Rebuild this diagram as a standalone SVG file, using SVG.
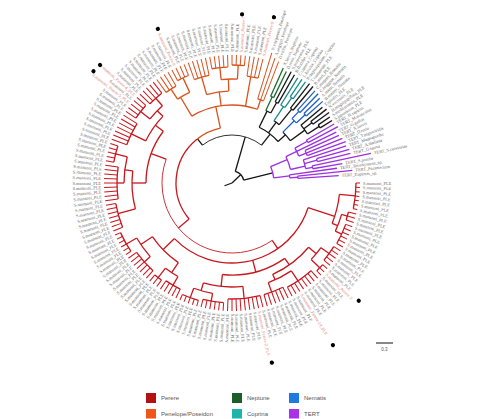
<svg xmlns="http://www.w3.org/2000/svg" width="481" height="419" viewBox="0 0 481 419">
<style>
.br path,.br circle{fill:none;stroke-width:1.3}
.k{stroke:#151515}.r{stroke:#c8161d}.o{stroke:#d9531e}.g{stroke:#1d6b2f}.c{stroke:#1a8c8c}.b{stroke:#1f5fc8}.p{stroke:#9b30e0}
.br .th{stroke-width:0.8}
.br .lf path{stroke-width:1}
.lbl text{font-family:"Liberation Serif","Times New Roman",serif;font-size:4.4px;fill:#666;dominant-baseline:central}
.lbl .L text{text-anchor:end}
.lbl text.pk{fill:#e07a72}
.lg text{font-family:"Liberation Sans",Arial,sans-serif;font-size:6px;fill:#555;dominant-baseline:central}
</style>
<rect width="481" height="419" fill="#fff"/>
<g id="branches" class="br" transform="translate(232,183)">
 <g id="root">
  <path class="k" d="M0 0H8" transform="rotate(160)"/>
  <path class="k" d="M0 0H12" transform="rotate(-44)"/>
  <circle class="k" r="12" pathLength="360" stroke-dasharray="60 999" transform="rotate(-74)"/>
  <path class="k" d="M12 0H48" transform="rotate(-74)"/>
  <path class="k" d="M12 0H42" transform="rotate(-14)"/>
  <circle class="k th" r="48" pathLength="360" stroke-dasharray="76 999" transform="rotate(-128)"/>
  <path class="k" d="M48 0H56" transform="rotate(-128)"/>
 </g>
 <g id="perere-branches" class="r">
  <circle class="r" r="56" pathLength="360" stroke-dasharray="92 999" transform="rotate(140)"/>
  <path d="M56 0H70" transform="rotate(140)"/>
  <circle class="r th" r="70" pathLength="360" stroke-dasharray="145 999" transform="rotate(55)"/>
  <path d="M70 0H86" transform="rotate(200)"/>
  <circle r="86" pathLength="360" stroke-dasharray="37 999" transform="rotate(180)"/>
  <path d="M86 0H100" transform="rotate(180)"/>
  <circle r="100" pathLength="360" stroke-dasharray="22 999" transform="rotate(165)"/>
  <path d="M100 0H118" transform="rotate(165)"/>
  <circle r="118" pathLength="360" stroke-dasharray="12 999" transform="rotate(158)"/>
  <path d="M100 0H108" transform="rotate(187)"/>
  <circle r="108" pathLength="360" stroke-dasharray="14 999" transform="rotate(180)"/>
  <path d="M108 0H115" transform="rotate(180)"/>
  <circle r="115" pathLength="360" stroke-dasharray="16 999" transform="rotate(172)"/>
  <path d="M108 0H120" transform="rotate(194)"/>
  <circle r="120" pathLength="360" stroke-dasharray="8 999" transform="rotate(190)"/>
  <path d="M86 0H96" transform="rotate(217)"/>
  <circle r="96" pathLength="360" stroke-dasharray="18 999" transform="rotate(206)"/>
  <path d="M96 0H112" transform="rotate(206)"/>
  <circle r="112" pathLength="360" stroke-dasharray="12 999" transform="rotate(200)"/>
  <path d="M96 0H104" transform="rotate(224)"/>
  <circle r="104" pathLength="360" stroke-dasharray="10 999" transform="rotate(218)"/>
  <path d="M104 0H116" transform="rotate(218)"/>
  <circle r="116" pathLength="360" stroke-dasharray="8 999" transform="rotate(214)"/>
  <path d="M104 0H114" transform="rotate(228)"/>
  <circle r="114" pathLength="360" stroke-dasharray="8 999" transform="rotate(224)"/>
  <path d="M70 0H80" transform="rotate(55)"/>
  <circle r="80" pathLength="360" stroke-dasharray="118 999" transform="rotate(18)"/>
  <path d="M80 0H108" transform="rotate(18)"/>
  <circle r="108" pathLength="360" stroke-dasharray="16 999" transform="rotate(6)"/>
  <path d="M108 0H124" transform="rotate(6)"/>
  <circle r="124" pathLength="360" stroke-dasharray="12 999" transform="rotate(0)"/>
  <path d="M108 0H114" transform="rotate(22)"/>
  <circle r="114" pathLength="360" stroke-dasharray="9 999" transform="rotate(16)"/>
  <path d="M114 0H120" transform="rotate(16)"/>
  <circle r="120" pathLength="360" stroke-dasharray="4 999" transform="rotate(14)"/>
  <path d="M114 0H121" transform="rotate(25)"/>
  <circle r="121" pathLength="360" stroke-dasharray="10 999" transform="rotate(20)"/>
  <path d="M80 0H92" transform="rotate(75)"/>
  <circle r="92" pathLength="360" stroke-dasharray="41 999" transform="rotate(55)"/>
  <path d="M92 0H100" transform="rotate(55)"/>
  <circle r="100" pathLength="360" stroke-dasharray="26 999" transform="rotate(40)"/>
  <path d="M100 0H110" transform="rotate(40)"/>
  <circle r="110" pathLength="360" stroke-dasharray="8 999" transform="rotate(36)"/>
  <path d="M110 0H120" transform="rotate(36)"/>
  <circle r="120" pathLength="360" stroke-dasharray="8 999" transform="rotate(32)"/>
  <path d="M110 0H122" transform="rotate(44)"/>
  <circle r="122" pathLength="360" stroke-dasharray="4 999" transform="rotate(42)"/>
  <path d="M100 0H106" transform="rotate(66)"/>
  <circle r="106" pathLength="360" stroke-dasharray="14 999" transform="rotate(56)"/>
  <path d="M106 0H118" transform="rotate(56)"/>
  <circle r="118" pathLength="360" stroke-dasharray="14 999" transform="rotate(48)"/>
  <path d="M106 0H116" transform="rotate(70)"/>
  <circle r="116" pathLength="360" stroke-dasharray="10 999" transform="rotate(64)"/>
  <path d="M92 0H104" transform="rotate(96)"/>
  <circle r="104" pathLength="360" stroke-dasharray="22 999" transform="rotate(84)"/>
  <path d="M104 0H116" transform="rotate(84)"/>
  <circle r="116" pathLength="360" stroke-dasharray="16 999" transform="rotate(76)"/>
  <path d="M104 0H112" transform="rotate(106)"/>
  <circle r="112" pathLength="360" stroke-dasharray="10 999" transform="rotate(100)"/>
  <path d="M112 0H120" transform="rotate(100)"/>
  <circle r="120" pathLength="360" stroke-dasharray="10 999" transform="rotate(94)"/>
  <path d="M112 0H122" transform="rotate(110)"/>
  <circle r="122" pathLength="360" stroke-dasharray="8 999" transform="rotate(106)"/>
  <path d="M80 0H96" transform="rotate(136)"/>
  <circle r="96" pathLength="360" stroke-dasharray="22 999" transform="rotate(124)"/>
  <path d="M96 0H108" transform="rotate(124)"/>
  <circle r="108" pathLength="360" stroke-dasharray="8 999" transform="rotate(120)"/>
  <path d="M108 0H118" transform="rotate(120)"/>
  <circle r="118" pathLength="360" stroke-dasharray="8 999" transform="rotate(116)"/>
  <path d="M108 0H120" transform="rotate(128)"/>
  <circle r="120" pathLength="360" stroke-dasharray="4 999" transform="rotate(126)"/>
  <path d="M96 0H110" transform="rotate(146)"/>
  <circle r="110" pathLength="360" stroke-dasharray="12 999" transform="rotate(138)"/>
  <path d="M110 0H118" transform="rotate(138)"/>
  <circle r="118" pathLength="360" stroke-dasharray="12 999" transform="rotate(132)"/>
  <path d="M110 0H122" transform="rotate(150)"/>
  <circle r="122" pathLength="360" stroke-dasharray="10 999" transform="rotate(146)"/>
  <g class="lf">
   <path d="M124 0H128"/><path d="M124 0H128" transform="rotate(2)"/><path d="M124 0H128" transform="rotate(4)"/><path d="M124 0H128" transform="rotate(6)"/><path d="M124 0H128" transform="rotate(8)"/><path d="M124 0H128" transform="rotate(10)"/><path d="M124 0H128" transform="rotate(12)"/>
   <path d="M120 0H128" transform="rotate(14)"/><path d="M120 0H128" transform="rotate(16)"/><path d="M120 0H128" transform="rotate(18)"/>
   <path d="M121 0H128" transform="rotate(20)"/><path d="M121 0H128" transform="rotate(22)"/><path d="M121 0H128" transform="rotate(24)"/><path d="M121 0H128" transform="rotate(26)"/><path d="M121 0H128" transform="rotate(28)"/><path d="M121 0H128" transform="rotate(30)"/>
   <path d="M120 0H128" transform="rotate(32)"/><path d="M120 0H128" transform="rotate(34)"/><path d="M120 0H128" transform="rotate(36)"/><path d="M120 0H128" transform="rotate(38)"/><path d="M120 0H128" transform="rotate(40)"/>
   <path d="M122 0H128" transform="rotate(42)"/><path d="M122 0H128" transform="rotate(44)"/><path d="M122 0H128" transform="rotate(46)"/>
   <path d="M118 0H128" transform="rotate(48)"/><path d="M118 0H128" transform="rotate(50)"/><path d="M118 0H128" transform="rotate(52)"/><path d="M118 0H128" transform="rotate(54)"/><path d="M118 0H128" transform="rotate(56)"/><path d="M118 0H128" transform="rotate(58)"/><path d="M118 0H128" transform="rotate(60)"/><path d="M118 0H128" transform="rotate(62)"/>
   <path d="M116 0H128" transform="rotate(64)"/><path d="M116 0H128" transform="rotate(66)"/><path d="M116 0H128" transform="rotate(68)"/><path d="M116 0H128" transform="rotate(70)"/><path d="M116 0H128" transform="rotate(72)"/><path d="M116 0H128" transform="rotate(74)"/>
   <path d="M116 0H128" transform="rotate(76)"/><path d="M116 0H128" transform="rotate(78)"/><path d="M116 0H128" transform="rotate(80)"/><path d="M116 0H128" transform="rotate(82)"/><path d="M116 0H128" transform="rotate(84)"/><path d="M116 0H128" transform="rotate(86)"/><path d="M116 0H128" transform="rotate(88)"/><path d="M116 0H128" transform="rotate(90)"/><path d="M116 0H128" transform="rotate(92)"/>
   <path d="M120 0H128" transform="rotate(94)"/><path d="M120 0H128" transform="rotate(96)"/><path d="M120 0H128" transform="rotate(98)"/><path d="M120 0H128" transform="rotate(100)"/><path d="M120 0H128" transform="rotate(102)"/><path d="M120 0H128" transform="rotate(104)"/>
   <path d="M122 0H128" transform="rotate(106)"/><path d="M122 0H128" transform="rotate(108)"/><path d="M122 0H128" transform="rotate(110)"/><path d="M122 0H128" transform="rotate(112)"/><path d="M122 0H128" transform="rotate(114)"/>
   <path d="M118 0H128" transform="rotate(116)"/><path d="M118 0H128" transform="rotate(118)"/><path d="M118 0H128" transform="rotate(120)"/><path d="M118 0H128" transform="rotate(122)"/><path d="M118 0H128" transform="rotate(124)"/>
   <path d="M120 0H128" transform="rotate(126)"/><path d="M120 0H128" transform="rotate(128)"/><path d="M120 0H128" transform="rotate(130)"/>
   <path d="M118 0H128" transform="rotate(132)"/><path d="M118 0H128" transform="rotate(134)"/><path d="M118 0H128" transform="rotate(136)"/><path d="M118 0H128" transform="rotate(138)"/><path d="M118 0H128" transform="rotate(140)"/><path d="M118 0H128" transform="rotate(142)"/><path d="M118 0H128" transform="rotate(144)"/>
   <path d="M122 0H128" transform="rotate(146)"/><path d="M122 0H128" transform="rotate(148)"/><path d="M122 0H128" transform="rotate(150)"/><path d="M122 0H128" transform="rotate(152)"/><path d="M122 0H128" transform="rotate(154)"/><path d="M122 0H128" transform="rotate(156)"/>
   <path d="M118 0H128" transform="rotate(158)"/><path d="M118 0H128" transform="rotate(160)"/><path d="M118 0H128" transform="rotate(162)"/><path d="M118 0H128" transform="rotate(164)"/><path d="M118 0H128" transform="rotate(166)"/><path d="M118 0H128" transform="rotate(168)"/><path d="M118 0H128" transform="rotate(170)"/>
   <path d="M115 0H128" transform="rotate(172)"/><path d="M115 0H128" transform="rotate(174)"/><path d="M115 0H128" transform="rotate(176)"/><path d="M115 0H128" transform="rotate(178)"/><path d="M115 0H128" transform="rotate(180)"/><path d="M115 0H128" transform="rotate(182)"/><path d="M115 0H128" transform="rotate(184)"/><path d="M115 0H128" transform="rotate(186)"/><path d="M115 0H128" transform="rotate(188)"/>
   <path d="M120 0H128" transform="rotate(190)"/><path d="M120 0H128" transform="rotate(192)"/><path d="M120 0H128" transform="rotate(194)"/><path d="M120 0H128" transform="rotate(196)"/><path d="M120 0H128" transform="rotate(198)"/>
   <path d="M112 0H128" transform="rotate(200)"/><path d="M112 0H128" transform="rotate(202)"/><path d="M112 0H128" transform="rotate(204)"/><path d="M112 0H128" transform="rotate(206)"/><path d="M112 0H128" transform="rotate(208)"/><path d="M112 0H128" transform="rotate(210)"/><path d="M112 0H128" transform="rotate(212)"/>
   <path d="M116 0H128" transform="rotate(214)"/><path d="M116 0H128" transform="rotate(216)"/><path d="M116 0H128" transform="rotate(218)"/><path d="M116 0H128" transform="rotate(220)"/><path d="M116 0H128" transform="rotate(222)"/>
   <path d="M114 0H128" transform="rotate(224)"/><path d="M114 0H128" transform="rotate(226)"/><path d="M114 0H128" transform="rotate(228)"/><path d="M114 0H128" transform="rotate(230)"/><path d="M114 0H128" transform="rotate(232)"/>
  </g>
 </g>
 <g id="penelope-branches" class="o">
  <circle r="56" pathLength="360" stroke-dasharray="26 999" transform="rotate(232)"/>
  <path d="M56 0H78" transform="rotate(-102)"/>
  <circle r="78" pathLength="360" stroke-dasharray="50 999" transform="rotate(-121)"/>
  <path d="M78 0H100" transform="rotate(-121)"/>
  <circle r="100" pathLength="360" stroke-dasharray="8 999" transform="rotate(-123)"/>
  <path d="M100 0H112" transform="rotate(-123)"/>
  <circle r="112" pathLength="360" stroke-dasharray="6 999" transform="rotate(-126)"/>
  <path d="M100 0H116" transform="rotate(-115)"/>
  <circle r="116" pathLength="360" stroke-dasharray="6 999" transform="rotate(-118)"/>
  <path d="M78 0H92" transform="rotate(-98)"/>
  <circle r="92" pathLength="360" stroke-dasharray="14 999" transform="rotate(-106)"/>
  <path d="M92 0H110" transform="rotate(-106)"/>
  <circle r="110" pathLength="360" stroke-dasharray="8 999" transform="rotate(-110)"/>
  <path d="M92 0H104" transform="rotate(-92)"/>
  <circle r="104" pathLength="360" stroke-dasharray="9 999" transform="rotate(-96)"/>
  <path d="M104 0H116" transform="rotate(-96)"/>
  <circle r="116" pathLength="360" stroke-dasharray="8 999" transform="rotate(-100)"/>
  <path d="M104 0H118" transform="rotate(-87)"/>
  <circle r="118" pathLength="360" stroke-dasharray="6 999" transform="rotate(-90)"/>
  <path d="M78 0H108" transform="rotate(-80)"/>
  <circle r="108" pathLength="360" stroke-dasharray="6 999" transform="rotate(-82)"/>
  <path d="M78 0H88" transform="rotate(-71)"/>
  <circle r="88" pathLength="360" stroke-dasharray="4 999" transform="rotate(-73)"/>
  <g class="lf">
   <path d="M112 0H128" transform="rotate(-126)"/><path d="M112 0H128" transform="rotate(-124)"/><path d="M112 0H128" transform="rotate(-122)"/><path d="M112 0H128" transform="rotate(-120)"/>
   <path d="M116 0H128" transform="rotate(-118)"/><path d="M116 0H128" transform="rotate(-116)"/><path d="M116 0H128" transform="rotate(-114)"/><path d="M116 0H128" transform="rotate(-112)"/>
   <path d="M110 0H128" transform="rotate(-110)"/><path d="M110 0H128" transform="rotate(-108)"/><path d="M110 0H128" transform="rotate(-106)"/><path d="M110 0H128" transform="rotate(-104)"/><path d="M110 0H128" transform="rotate(-102)"/>
   <path d="M116 0H128" transform="rotate(-100)"/><path d="M116 0H128" transform="rotate(-98)"/><path d="M116 0H128" transform="rotate(-96)"/><path d="M116 0H128" transform="rotate(-94)"/><path d="M116 0H128" transform="rotate(-92)"/>
   <path d="M118 0H128" transform="rotate(-90)"/><path d="M118 0H128" transform="rotate(-88)"/><path d="M118 0H128" transform="rotate(-86)"/><path d="M118 0H128" transform="rotate(-84)"/>
   <path d="M108 0H128" transform="rotate(-82)"/><path d="M108 0H128" transform="rotate(-80)"/><path d="M108 0H128" transform="rotate(-78)"/><path d="M108 0H128" transform="rotate(-76)"/>
   <path d="M88 0H136" transform="rotate(-73)"/><path d="M88 0H132" transform="rotate(-71)"/><path d="M88 0H130" transform="rotate(-69)"/>
  </g>
 </g>
 <g id="other-branches">
  <path class="k" d="M48 0H62" transform="rotate(-52)"/>
  <circle class="k" r="62" pathLength="360" stroke-dasharray="22 999" transform="rotate(-64)"/>
  <path class="k" d="M62 0H80" transform="rotate(-64)"/>
  <circle class="k" r="80" pathLength="360" stroke-dasharray="4 999" transform="rotate(-65)"/>
  <path class="g" d="M80 0H95" transform="rotate(-65)"/>
  <circle class="g" r="95" pathLength="360" stroke-dasharray="2 999" transform="rotate(-66)"/>
  <path class="g" d="M95 0H126" transform="rotate(-66)"/>
  <path class="g" d="M95 0H124" transform="rotate(-64)"/>
  <path class="k" d="M80 0H92" transform="rotate(-61)"/>
  <circle class="k" r="92" pathLength="360" stroke-dasharray="2 999" transform="rotate(-62)"/>
  <path class="k" d="M92 0H126" transform="rotate(-62)"/>
  <path class="k" d="M92 0H125" transform="rotate(-60)"/>
  <path class="k" d="M62 0H75" transform="rotate(-54)"/>
  <circle class="k" r="75" pathLength="360" stroke-dasharray="5 999" transform="rotate(-56)"/>
  <path class="c" d="M75 0H92" transform="rotate(-56)"/>
  <circle class="c" r="92" pathLength="360" stroke-dasharray="3 999" transform="rotate(-58)"/>
  <path class="c" d="M92 0H124" transform="rotate(-58)"/>
  <path class="c" d="M92 0H104" transform="rotate(-55)"/>
  <circle class="c" r="104" pathLength="360" stroke-dasharray="2 999" transform="rotate(-56)"/>
  <path class="c" d="M104 0H125" transform="rotate(-56)"/>
  <path class="c" d="M104 0H125" transform="rotate(-54)"/>
  <path class="k" d="M75 0H95" transform="rotate(-51)"/>
  <circle class="k" r="95" pathLength="360" stroke-dasharray="2 999" transform="rotate(-52)"/>
  <path class="k" d="M95 0H126" transform="rotate(-52)"/>
  <path class="k" d="M95 0H126" transform="rotate(-50)"/>
  <path class="k" d="M62 0H72" transform="rotate(-42)"/>
  <circle class="k" r="72" pathLength="360" stroke-dasharray="9 999" transform="rotate(-45)"/>
  <path class="b" d="M72 0H88" transform="rotate(-45)"/>
  <circle class="b" r="88" pathLength="360" stroke-dasharray="4 999" transform="rotate(-47)"/>
  <path class="b" d="M88 0H98" transform="rotate(-47)"/>
  <circle class="b" r="98" pathLength="360" stroke-dasharray="2 999" transform="rotate(-48)"/>
  <path class="b" d="M98 0H124" transform="rotate(-48)"/>
  <path class="b" d="M98 0H124" transform="rotate(-46)"/>
  <path class="b" d="M88 0H100" transform="rotate(-43)"/>
  <circle class="b" r="100" pathLength="360" stroke-dasharray="2 999" transform="rotate(-44)"/>
  <path class="b" d="M100 0H122" transform="rotate(-44)"/>
  <path class="b" d="M100 0H122" transform="rotate(-42)"/>
  <path class="k" d="M72 0H90" transform="rotate(-36)"/>
  <circle class="k" r="90" pathLength="360" stroke-dasharray="7 999" transform="rotate(-40)"/>
  <path class="k" d="M90 0H118" transform="rotate(-40)"/>
  <path class="k" d="M90 0H100" transform="rotate(-37)"/>
  <circle class="k" r="100" pathLength="360" stroke-dasharray="2 999" transform="rotate(-38)"/>
  <path class="k" d="M100 0H120" transform="rotate(-38)"/>
  <path class="k" d="M100 0H120" transform="rotate(-36)"/>
  <path class="k" d="M90 0H104" transform="rotate(-33)"/>
  <circle class="k" r="104" pathLength="360" stroke-dasharray="2 999" transform="rotate(-34)"/>
  <path class="k" d="M104 0H118" transform="rotate(-34)"/>
  <path class="k" d="M104 0H118" transform="rotate(-32)"/>
 </g>
 <g id="tert-branches" class="p">
  <circle r="42" pathLength="360" stroke-dasharray="16 999" transform="rotate(-23)"/>
  <path d="M42 0H58" transform="rotate(-7)"/>
  <circle r="58" pathLength="360" stroke-dasharray="3 999" transform="rotate(-8)"/>
  <path d="M58 0H106" transform="rotate(-8)"/>
  <path d="M58 0H66" transform="rotate(-5)"/>
  <circle r="66" pathLength="360" stroke-dasharray="2 999" transform="rotate(-6)"/>
  <path d="M66 0H121" transform="rotate(-6)"/>
  <path d="M66 0H107" transform="rotate(-4)"/>
  <path d="M42 0H60" transform="rotate(-23)"/>
  <circle r="60" pathLength="360" stroke-dasharray="13 999" transform="rotate(-26)"/>
  <path d="M60 0H72" transform="rotate(-26)"/>
  <circle r="72" pathLength="360" stroke-dasharray="7 999" transform="rotate(-29)"/>
  <path d="M72 0H86" transform="rotate(-29)"/>
  <circle r="86" pathLength="360" stroke-dasharray="2 999" transform="rotate(-30)"/>
  <path d="M86 0H118" transform="rotate(-30)"/>
  <path d="M86 0H120" transform="rotate(-28)"/>
  <path d="M72 0H116" transform="rotate(-26)"/>
  <path d="M72 0H80" transform="rotate(-22)"/>
  <circle r="80" pathLength="360" stroke-dasharray="4 999" transform="rotate(-24)"/>
  <path d="M80 0H117" transform="rotate(-24)"/>
  <path d="M80 0H119" transform="rotate(-22)"/>
  <path d="M80 0H121" transform="rotate(-20)"/>
  <path d="M60 0H75" transform="rotate(-13)"/>
  <circle r="75" pathLength="360" stroke-dasharray="7 999" transform="rotate(-18)"/>
  <path d="M75 0H120" transform="rotate(-18)"/>
  <path d="M75 0H88" transform="rotate(-15)"/>
  <circle r="88" pathLength="360" stroke-dasharray="2 999" transform="rotate(-16)"/>
  <path d="M88 0H122" transform="rotate(-16)"/>
  <path d="M88 0H122" transform="rotate(-14)"/>
  <path d="M75 0H82" transform="rotate(-11)"/>
  <circle r="82" pathLength="360" stroke-dasharray="2 999" transform="rotate(-12)"/>
  <path d="M82 0H142" transform="rotate(-12)"/>
  <path d="M82 0H112" transform="rotate(-10)"/>
 </g>
</g>
<g class="lbl" transform="translate(232,183)">
 <g id="perere-leaves">
  <text x="131">S.mansoni_PLE</text>
  <text x="131" transform="rotate(2)">S.mansoni_PLE</text>
  <text x="131" transform="rotate(4)">S.mansoni_PLE</text>
  <text x="131" transform="rotate(6)">S.mansoni_PLE</text>
  <text x="131" transform="rotate(8)">S.mansoni_PLE</text>
  <text x="131" transform="rotate(10)">S.mansoni_PLE</text>
  <text x="131" transform="rotate(12)">S.mansoni_PLE</text>
  <text x="131" transform="rotate(14)">S.mansoni_PLE</text>
  <text x="131" transform="rotate(16)">S.mansoni_PLE</text>
  <text x="131" transform="rotate(18)">S.mansoni_PLE</text>
  <text x="131" transform="rotate(20)">S.mansoni_PLE</text>
  <text x="131" transform="rotate(22)">S.mansoni_PLE</text>
  <text x="131" transform="rotate(24)">S.mansoni_PLE</text>
  <text x="131" transform="rotate(26)">S.mansoni_PLE</text>
  <text x="131" transform="rotate(28)">S.mansoni_PLE</text>
  <text x="131" transform="rotate(30)">S.mansoni_PLE</text>
  <text x="131" transform="rotate(32)">S.mansoni_PLE</text>
  <text x="131" transform="rotate(34)">S.mansoni_PLE</text>
  <text x="131" transform="rotate(36)">S.mansoni_PLE</text>
  <text x="131" transform="rotate(38)">S.mansoni_PLE</text>
  <text x="131" transform="rotate(40)">S.mansoni_PLE</text>
  <text x="131" transform="rotate(42)">S.mansoni_PLE</text>
  <text class="pk" x="131" transform="rotate(44)">S.mansoni_Perere-3</text>
  <text x="131" transform="rotate(46)">S.mansoni_PLE</text>
  <text x="131" transform="rotate(48)">S.mansoni_PLE</text>
  <text x="131" transform="rotate(50)">S.mansoni_PLE</text>
  <text x="131" transform="rotate(52)">S.mansoni_PLE</text>
  <text x="131" transform="rotate(54)">S.mansoni_PLE</text>
  <text x="131" transform="rotate(56)">S.mansoni_PLE</text>
  <text class="pk" x="131" transform="rotate(58)">S.mansoni_Perere-10_PLE</text>
  <text x="131" transform="rotate(60)">S.mansoni_PLE</text>
  <text x="131" transform="rotate(62)">S.mansoni_PLE</text>
  <text x="131" transform="rotate(64)">S.mansoni_PLE</text>
  <text x="131" transform="rotate(66)">S.mansoni_PLE</text>
  <text x="131" transform="rotate(68)">S.mansoni_PLE</text>
  <text x="131" transform="rotate(70)">S.mansoni_PLE</text>
  <text x="131" transform="rotate(72)">S.mansoni_PLE</text>
  <text x="131" transform="rotate(74)">S.mansoni_PLE</text>
  <text x="131" transform="rotate(76)">S.mansoni_PLE</text>
  <text class="pk" x="131" transform="rotate(78)">S.mansoni_Perere-2_PLE</text>
  <text x="131" transform="rotate(80)">S.mansoni_PLE</text>
  <text x="131" transform="rotate(82)">S.mansoni_PLE</text>
  <text x="131" transform="rotate(84)">S.mansoni_PLE</text>
  <text x="131" transform="rotate(86)">S.mansoni_PLE</text>
  <text x="131" transform="rotate(88)">S.mansoni_PLE</text>
  <text x="131" transform="rotate(90)">S.mansoni_PLE</text>
  <g class="L">
   <text x="-131" transform="rotate(-88)">S.mansoni_PLE</text>
   <text x="-131" transform="rotate(-86)">S.mansoni_PLE</text>
   <text x="-131" transform="rotate(-84)">S.mansoni_PLE</text>
   <text x="-131" transform="rotate(-82)">S.mansoni_PLE</text>
   <text x="-131" transform="rotate(-80)">S.mansoni_PLE</text>
   <text x="-131" transform="rotate(-78)">S.mansoni_PLE</text>
   <text x="-131" transform="rotate(-76)">S.mansoni_PLE</text>
   <text x="-131" transform="rotate(-74)">S.mansoni_PLE</text>
   <text x="-131" transform="rotate(-72)">S.mansoni_PLE</text>
   <text x="-131" transform="rotate(-70)">S.mansoni_PLE</text>
   <text x="-131" transform="rotate(-68)">S.mansoni_PLE</text>
   <text x="-131" transform="rotate(-66)">S.mansoni_PLE</text>
   <text x="-131" transform="rotate(-64)">S.mansoni_PLE</text>
   <text x="-131" transform="rotate(-62)">S.mansoni_PLE</text>
   <text x="-131" transform="rotate(-60)">S.mansoni_PLE</text>
   <text x="-131" transform="rotate(-58)">S.mansoni_PLE</text>
   <text x="-131" transform="rotate(-56)">S.mansoni_PLE</text>
   <text x="-131" transform="rotate(-54)">S.mansoni_PLE</text>
   <text x="-131" transform="rotate(-52)">S.mansoni_PLE</text>
   <text x="-131" transform="rotate(-50)">S.mansoni_PLE</text>
   <text x="-131" transform="rotate(-48)">S.mansoni_PLE</text>
   <text x="-131" transform="rotate(-46)">S.mansoni_PLE</text>
   <text x="-131" transform="rotate(-44)">S.mansoni_PLE</text>
   <text x="-131" transform="rotate(-42)">S.mansoni_PLE</text>
   <text x="-131" transform="rotate(-40)">S.mansoni_PLE</text>
   <text x="-131" transform="rotate(-38)">S.mansoni_PLE</text>
   <text x="-131" transform="rotate(-36)">S.mansoni_PLE</text>
   <text x="-131" transform="rotate(-34)">S.mansoni_PLE</text>
   <text x="-131" transform="rotate(-32)">S.mansoni_PLE</text>
   <text x="-131" transform="rotate(-30)">S.mansoni_PLE</text>
   <text x="-131" transform="rotate(-28)">S.mansoni_PLE</text>
   <text x="-131" transform="rotate(-26)">S.mansoni_PLE</text>
   <text x="-131" transform="rotate(-24)">S.mansoni_PLE</text>
   <text x="-131" transform="rotate(-22)">S.mansoni_PLE</text>
   <text x="-131" transform="rotate(-20)">S.mansoni_PLE</text>
   <text x="-131" transform="rotate(-18)">S.mansoni_PLE</text>
   <text x="-131" transform="rotate(-16)">S.mansoni_PLE</text>
   <text x="-131" transform="rotate(-14)">S.mansoni_PLE</text>
   <text x="-131" transform="rotate(-12)">S.mansoni_PLE</text>
   <text x="-131" transform="rotate(-10)">S.mansoni_PLE</text>
   <text x="-131" transform="rotate(-8)">S.mansoni_PLE</text>
   <text x="-131" transform="rotate(-6)">S.mansoni_PLE</text>
   <text x="-131" transform="rotate(-4)">S.mansoni_PLE</text>
   <text x="-131" transform="rotate(-2)">S.mansoni_PLE</text>
   <text x="-131">S.mansoni_PLE</text>
   <text x="-131" transform="rotate(2)">S.mansoni_PLE</text>
   <text x="-131" transform="rotate(4)">S.mansoni_PLE</text>
   <text x="-131" transform="rotate(6)">S.mansoni_PLE</text>
   <text x="-131" transform="rotate(8)">S.mansoni_PLE</text>
   <text x="-131" transform="rotate(10)">S.mansoni_PLE</text>
   <text x="-131" transform="rotate(12)">S.mansoni_PLE</text>
   <text x="-131" transform="rotate(14)">S.mansoni_PLE</text>
   <text x="-131" transform="rotate(16)">S.mansoni_PLE</text>
   <text x="-131" transform="rotate(18)">S.mansoni_PLE</text>
   <text x="-131" transform="rotate(20)">S.mansoni_PLE</text>
   <text x="-131" transform="rotate(22)">S.mansoni_PLE</text>
   <text x="-131" transform="rotate(24)">S.mansoni_PLE</text>
   <text x="-131" transform="rotate(26)">S.mansoni_PLE</text>
   <text x="-131" transform="rotate(28)">S.mansoni_PLE</text>
   <text x="-131" transform="rotate(30)">S.mansoni_PLE</text>
   <text x="-131" transform="rotate(32)">S.mansoni_PLE</text>
   <text x="-131" transform="rotate(34)">S.mansoni_PLE</text>
   <text x="-131" transform="rotate(36)">S.mansoni_PLE</text>
   <text class="pk" x="-131" transform="rotate(38)">S.mansoni_Perere-5_PLE</text>
   <text x="-131" transform="rotate(40)">S.mansoni_PLE</text>
   <text class="pk" x="-131" transform="rotate(42)">S.mansoni_Perere-4_PLE</text>
   <text x="-131" transform="rotate(44)">S.mansoni_PLE</text>
   <text x="-131" transform="rotate(46)">S.mansoni_PLE</text>
   <text x="-131" transform="rotate(48)">S.mansoni_PLE</text>
   <text x="-131" transform="rotate(50)">S.mansoni_PLE</text>
   <text x="-131" transform="rotate(52)">S.mansoni_PLE</text>
  </g>
 </g>
 <g id="penelope-leaves">
  <g class="L">
   <text x="-131" transform="rotate(54)">S.mansoni_PLE</text>
   <text x="-131" transform="rotate(56)">S.mansoni_PLE</text>
   <text x="-131" transform="rotate(58)">S.mansoni_PLE</text>
   <text x="-131" transform="rotate(60)">S.mansoni_PLE</text>
   <text x="-131" transform="rotate(62)">S.mansoni_PLE</text>
   <text class="pk" x="-131" transform="rotate(64)">S.mansoni_Perere-8</text>
   <text x="-131" transform="rotate(66)">S.mansoni_PLE</text>
   <text x="-131" transform="rotate(68)">S.mansoni_PLE</text>
   <text x="-131" transform="rotate(70)">S.mansoni_PLE</text>
   <text x="-131" transform="rotate(72)">S.mansoni_PLE</text>
   <text x="-131" transform="rotate(74)">S.mansoni_PLE</text>
   <text x="-131" transform="rotate(76)">S.mansoni_PLE</text>
   <text x="-131" transform="rotate(78)">S.mansoni_PLE</text>
   <text x="-131" transform="rotate(80)">S.mansoni_PLE</text>
   <text x="-131" transform="rotate(82)">S.mansoni_PLE</text>
   <text x="-131" transform="rotate(84)">S.mansoni_PLE</text>
   <text x="-131" transform="rotate(86)">S.mansoni_PLE</text>
   <text x="-131" transform="rotate(88)">S.mansoni_PLE</text>
   <text x="-131" transform="rotate(90)">S.mansoni_PLE</text>
  </g>
  <text x="131" transform="rotate(-88)">S.mansoni_PLE</text>
  <text class="pk" x="131" transform="rotate(-86)">S.mansoni_Perere-7</text>
  <text x="131" transform="rotate(-84)">S.mansoni_PLE</text>
  <text x="131" transform="rotate(-82)">S.mansoni_PLE</text>
  <text x="131" transform="rotate(-80)">S.mansoni_PLE</text>
  <text x="131" transform="rotate(-78)">S.mansoni_PLE</text>
  <text class="pk" x="131" transform="rotate(-76)">S.mansoni_Perere-6</text>
  <text x="139" transform="rotate(-73)">N.vitripennis_Penelope</text>
  <text x="135" transform="rotate(-71)">A.aegypti_Penelope</text>
  <text x="133" transform="rotate(-69)">D.virilis_Penelope</text>
 </g>
 <g id="other-leaves">
  <text x="129" transform="rotate(-66)">X.laevis_Neptune</text>
  <text x="127" transform="rotate(-64)">D.rerio_Neptune</text>
  <text x="129" transform="rotate(-62)">S.purpuratus_PLE</text>
  <text x="128" transform="rotate(-60)">B.floridae_PLE</text>
  <text x="127" transform="rotate(-58)">C.cinerea_Coprina</text>
  <text x="128" transform="rotate(-56)">L.bicolor_Coprina</text>
  <text x="128" transform="rotate(-54)">P.chrysosporium_Coprina</text>
  <text x="129" transform="rotate(-52)">T.castaneum_PLE</text>
  <text x="129" transform="rotate(-50)">B.mori_PLE</text>
  <text x="127" transform="rotate(-48)">C.elegans_Nematis</text>
  <text x="127" transform="rotate(-46)">C.briggsae_Nematis</text>
  <text x="125" transform="rotate(-44)">A.suum_Nematis</text>
  <text x="125" transform="rotate(-42)">B.malayi_Nematis</text>
  <text x="121" transform="rotate(-40)">T.spiralis_PLE</text>
  <text x="123" transform="rotate(-38)">N.vectensis_PLE</text>
  <text x="123" transform="rotate(-36)">H.magnipapillata_PLE</text>
  <text x="121" transform="rotate(-34)">S.mediterranea_PLE</text>
  <text x="121" transform="rotate(-32)">S.japonicum_PLE</text>
 </g>
 <g id="tert-leaves">
  <text x="121" transform="rotate(-30)">TERT_H.sapiens</text>
  <text x="123" transform="rotate(-28)">TERT_M.musculus</text>
  <text x="119" transform="rotate(-26)">TERT_G.gallus</text>
  <text x="120" transform="rotate(-24)">TERT_X.laevis</text>
  <text x="122" transform="rotate(-22)">TERT_D.rerio</text>
  <text x="124" transform="rotate(-20)">TERT_T.nigroviridis</text>
  <text x="123" transform="rotate(-18)">TERT_Magnaporthe</text>
  <text x="125" transform="rotate(-16)">TERT_A.thaliana</text>
  <text x="125" transform="rotate(-14)">TERT_O.sativa</text>
  <text x="145" transform="rotate(-12)">TERT_S.cerevisiae</text>
  <text x="115" transform="rotate(-10)">TERT_S.pombe</text>
  <text x="109" transform="rotate(-8)">TERT_Tetrahymena_sp.</text>
  <text x="124" transform="rotate(-6)">TERT_Paramecium</text>
  <text x="110" transform="rotate(-4)">TERT_Euplotes_sp.</text>
 </g>
</g>
<g id="markers" fill="#000" transform="translate(232,183)">
 <circle cx="178" r="2.1" transform="rotate(218.9)"/>
 <circle cx="177" r="2.1" transform="rotate(221.8)"/>
 <circle cx="171" r="2.1" transform="rotate(-115.7)"/>
 <circle cx="169" r="2.1" transform="rotate(-86.6)"/>
 <circle cx="171" r="2.1" transform="rotate(-75.8)"/>
 <circle cx="173" r="2.1" transform="rotate(42.9)"/>
 <circle cx="191" r="2.1" transform="rotate(58.1)"/>
 <circle cx="184" r="2.1" transform="rotate(77.5)"/>
</g>
<g id="scale-bar">
 <path d="M376 343H393" stroke="#111" stroke-width="1"/>
 <text x="384.5" y="351" font-family="Liberation Sans, Arial, sans-serif" font-size="4.5" fill="#555" text-anchor="middle">0.3</text>
</g>
<g id="legend" class="lg">
 <g id="legend-perere"><rect x="146" y="393" width="10" height="10" fill="#b31212"/><text x="161" y="398">Perere</text></g>
 <g id="legend-penelope"><rect x="146" y="409" width="10" height="9.5" fill="#f0561a"/><text x="161" y="414">Penelope/Poseidon</text></g>
 <g id="legend-neptune"><rect x="232" y="393" width="10" height="10" fill="#1b5e2a"/><text x="247" y="398">Neptune</text></g>
 <g id="legend-coprina"><rect x="232" y="409" width="10" height="9.5" fill="#1fb5ad"/><text x="247" y="414">Coprina</text></g>
 <g id="legend-nematis"><rect x="289" y="393" width="10" height="10" fill="#1f7ae0"/><text x="304" y="398">Nematis</text></g>
 <g id="legend-tert"><rect x="289" y="409" width="10" height="9.5" fill="#a832e8"/><text x="304" y="414">TERT</text></g>
</g>
</svg>
